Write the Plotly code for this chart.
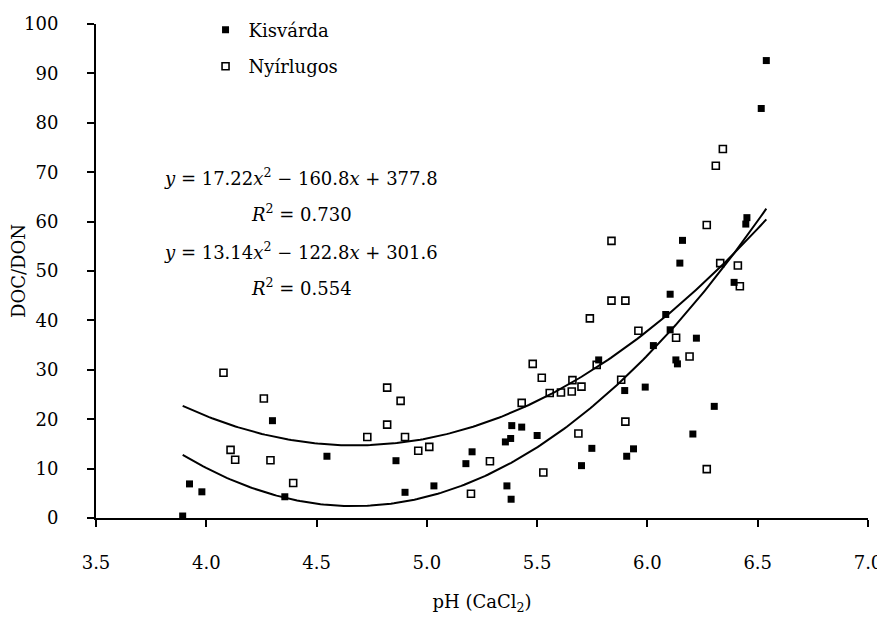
import plotly.graph_objects as go
import numpy as np

# Kisvárda (filled squares)
kis_ph = [3.893, 3.924, 3.980, 4.300, 4.356, 4.547, 4.860, 4.901, 5.032, 5.177,
          5.205, 5.356, 5.363, 5.380, 5.382, 5.385, 5.430, 5.500, 5.701, 5.748,
          5.779, 5.897, 5.906, 5.937, 5.990, 6.027, 6.083, 6.103, 6.103, 6.129,
          6.136, 6.147, 6.159, 6.206, 6.222, 6.303, 6.393, 6.446, 6.451, 6.516, 6.539]
kis_ratio = [0.4, 6.9, 5.3, 19.7, 4.3, 12.5, 11.6, 5.2, 6.5, 11.0,
             13.4, 15.4, 6.5, 16.1, 3.8, 18.7, 18.4, 16.7, 10.6, 14.1,
             32.0, 25.8, 12.5, 14.0, 26.5, 34.9, 41.2, 38.1, 45.3, 32.0,
             31.2, 51.6, 56.2, 17.0, 36.4, 22.6, 47.7, 59.5, 60.8, 82.9, 92.6]

# Nyírlugos (open squares)
nyi_ph = [4.078, 4.110, 4.131, 4.261, 4.291, 4.394, 4.730, 4.820, 4.820, 4.881,
          4.901, 4.961, 5.011, 5.200, 5.286, 5.430, 5.480, 5.521, 5.528, 5.557,
          5.608, 5.657, 5.660, 5.687, 5.701, 5.739, 5.770, 5.837, 5.837, 5.881,
          5.900, 5.900, 5.959, 6.130, 6.191, 6.269, 6.269, 6.310, 6.330, 6.342,
          6.410, 6.419]
nyi_ratio = [29.4, 13.8, 11.8, 24.2, 11.7, 7.1, 16.4, 26.4, 18.9, 23.7,
             16.4, 13.6, 14.4, 4.9, 11.5, 23.3, 31.2, 28.4, 9.2, 25.3,
             25.4, 25.6, 27.9, 17.1, 26.6, 40.4, 31.0, 56.1, 44.0, 28.0,
             44.0, 19.5, 37.9, 36.5, 32.7, 59.3, 9.9, 71.3, 51.6, 74.7,
             51.1, 46.9]

# Printed fit coefficients (a, b, c) for y = a x^2 + b x + c
fit1 = [17.22, -160.8, 377.8]
fit2 = [13.14, -122.8, 301.6]
eq_labels = ["<i>y</i> = 17.22<i>x</i><sup>2</sup> \u2212 160.8<i>x</i> + 377.8",
             "<i>R</i><sup>2</sup> = 0.730",
             "<i>y</i> = 13.14<i>x</i><sup>2</sup> \u2212 122.8<i>x</i> + 301.6",
             "<i>R</i><sup>2</sup> = 0.554"]

x_ticks = [3.5, 4.0, 4.5, 5.0, 5.5, 6.0, 6.5, 7.0]
y_ticks = list(range(0, 101, 10))

FONT = "DejaVu Serif"
FS = 18
allx = kis_ph + nyi_ph
xs = np.linspace(min(allx), max(allx), 200)

fig = go.Figure()
for coef in (fit1, fit2):
    fig.add_trace(go.Scatter(x=xs, y=np.polyval(coef, xs), mode="lines",
                             line=dict(color="black", width=2), showlegend=False,
                             hoverinfo="skip", cliponaxis=False))

fig.add_trace(go.Scatter(x=kis_ph, y=kis_ratio, mode="markers", name="Kisvárda",
                         cliponaxis=False, legendgroup="k",
                         marker=dict(symbol="square", size=7, color="black",
                                     line=dict(width=0))))
fig.add_trace(go.Scatter(x=nyi_ph, y=nyi_ratio, mode="markers", name="Nyírlugos",
                         cliponaxis=False, legendgroup="n",
                         marker=dict(symbol="square-open", size=7, color="black",
                                     line=dict(width=1.6, color="black"))))

eq_y = [69.1, 61.8, 54.1, 46.7]
for txt, yy in zip(eq_labels, eq_y):
    fig.add_annotation(x=4.43, y=yy, text=txt, showarrow=False, xanchor="center",
                       yanchor="middle", font=dict(family=FONT, size=FS, color="black"))

# page body adds an 8px offset; margins compensate so the plot area lands at
# x 96..868, y 24..518 in the window
fig.update_layout(
    width=877, height=613,
    margin=dict(l=88, r=17, t=16, b=103, autoexpand=False),
    paper_bgcolor="white", plot_bgcolor="white",
    font=dict(family=FONT, size=FS, color="black"),
    legend=dict(x=0.138, y=1.025, xanchor="left", yanchor="top",
                bgcolor="rgba(0,0,0,0)", font=dict(family=FONT, size=FS),
                itemwidth=36, tracegroupgap=10, traceorder="grouped"),
    xaxis=dict(range=[3.5, 7.0], tickvals=x_ticks,
               ticktext=[f"{v:.1f}" for v in x_ticks],
               showgrid=False, zeroline=False, showline=True, linecolor="black",
               linewidth=2, ticks="outside", ticklen=7, tickwidth=2,
               tickcolor="black", ticklabelstandoff=20, automargin=False,
               title=dict(text="pH (CaCl<sub>2</sub>)", standoff=24,
                          font=dict(family=FONT, size=FS))),
    yaxis=dict(range=[0, 100], tickvals=y_ticks,
               showgrid=False, zeroline=False, showline=True, linecolor="black",
               linewidth=2, ticks="outside", ticklen=7, tickwidth=2,
               tickcolor="black", ticklabelstandoff=25, automargin=False,
               title=dict(text="DOC/DON", standoff=4,
                          font=dict(family=FONT, size=FS))),
)

fig.write_html("out.html")
